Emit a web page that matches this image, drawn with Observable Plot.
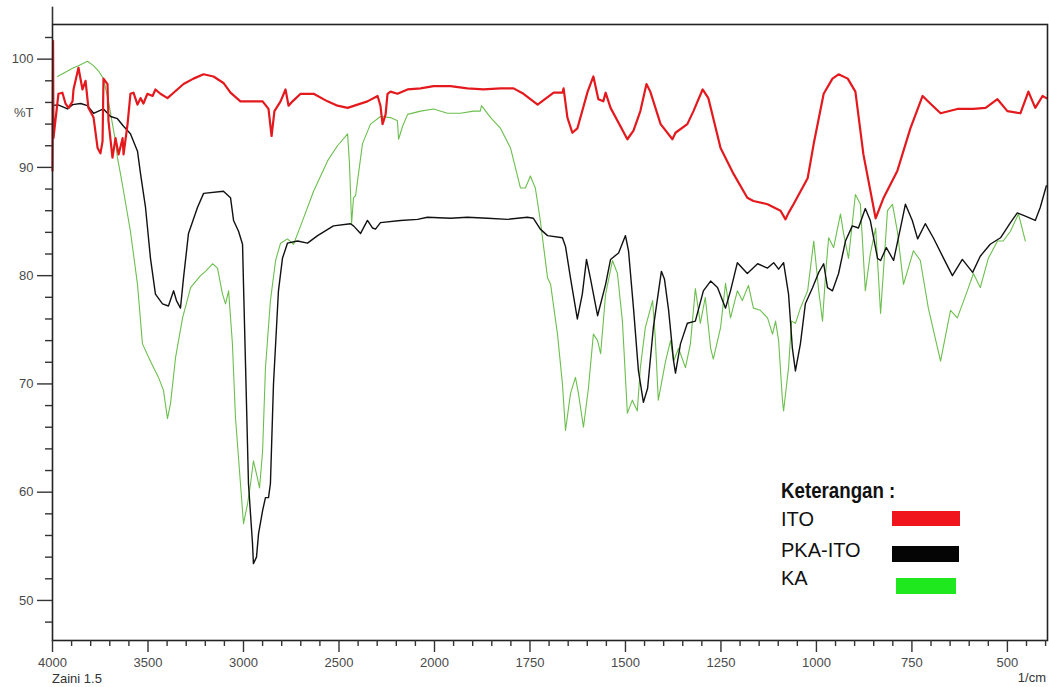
<!DOCTYPE html>
<html>
<head>
<meta charset="utf-8">
<script src="https://cdn.jsdelivr.net/npm/d3@7"></script>
<script src="https://cdn.jsdelivr.net/npm/@observablehq/plot@0.6"></script>
<style>
  html, body { margin: 0; padding: 0; background: #fff; }
  #wrap { position: relative; width: 1049px; height: 687px; font-family: "Liberation Sans", Arial, sans-serif; }
  #wrap svg { position: absolute; left: 0; top: 0; }
  .lg { position: absolute; white-space: nowrap; color: #111; }
  .sw { position: absolute; }
  .note { position: absolute; font-size: 13px; color: #333; white-space: nowrap; }
</style>
</head>
<body>
<div id="wrap"></div>
<script>
// ---- Data (wavenumber 1/cm, %T) ----
const itoSpectrum = [[4000,89.7],[3997,101.7],[3995,92.7],[3969,96.8],[3948,96.9],[3932,95.9],[3916,95.5],[3895,96.1],[3890,97.2],[3864,99.2],[3843,97.2],[3827,98.0],[3812,95.5],[3785,94.6],[3764,91.8],[3749,91.3],[3738,92.4],[3733,98.2],[3712,97.7],[3707,94.3],[3686,90.9],[3670,92.7],[3654,91.2],[3633,92.7],[3628,91.2],[3607,94.0],[3592,96.8],[3576,96.9],[3555,95.8],[3539,96.4],[3524,95.9],[3503,96.8],[3476,96.6],[3461,97.2],[3435,96.8],[3398,96.4],[3366,96.9],[3314,97.7],[3262,98.2],[3209,98.6],[3157,98.4],[3105,97.8],[3068,96.9],[3016,96.1],[2937,96.1],[2900,96.1],[2869,95.4],[2853,92.9],[2838,95.2],[2806,96.1],[2780,97.2],[2764,95.7],[2743,96.1],[2701,96.8],[2633,96.8],[2560,96.1],[2508,95.7],[2455,95.5],[2403,95.8],[2351,96.1],[2298,96.6],[2283,95.7],[2272,94.0],[2256,94.9],[2246,96.8],[2230,97.0],[2194,96.8],[2141,97.2],[2073,97.3],[2005,97.5],[1958,97.5],[1914,97.3],[1872,97.2],[1827,97.3],[1793,97.3],[1767,96.8],[1730,95.8],[1688,96.9],[1665,96.9],[1662,97.3],[1652,94.6],[1639,93.2],[1626,93.6],[1599,97.0],[1584,98.4],[1571,96.3],[1558,96.1],[1552,96.9],[1539,95.5],[1495,92.6],[1479,93.4],[1461,95.2],[1445,97.7],[1435,97.0],[1408,94.0],[1377,92.6],[1369,93.2],[1338,94.0],[1322,95.2],[1298,97.2],[1283,96.4],[1251,91.8],[1217,89.4],[1181,87.2],[1165,86.9],[1128,86.6],[1094,86.0],[1081,85.2],[1073,85.8],[1060,86.6],[1023,89.0],[1007,92.2],[981,96.8],[958,98.2],[942,98.6],[918,98.2],[898,97.0],[877,91.2],[845,85.3],[824,87.2],[788,89.7],[754,93.6],[722,96.6],[702,95.9],[675,95.0],[631,95.4],[589,95.4],[557,95.5],[526,96.3],[500,95.2],[466,95.0],[445,97.0],[427,95.5],[408,96.6],[398,96.4]];

const pkaItoSpectrum = [[3995,95.7],[3974,95.8],[3921,95.4],[3895,95.8],[3853,95.9],[3817,95.7],[3785,95.0],[3733,95.4],[3696,94.7],[3660,94.5],[3628,93.8],[3592,93.1],[3555,91.5],[3539,89.4],[3513,86.3],[3487,81.6],[3461,78.3],[3424,77.4],[3393,77.2],[3366,78.6],[3351,77.7],[3330,77.0],[3314,79.8],[3288,83.9],[3241,86.3],[3209,87.6],[3105,87.8],[3068,87.2],[3052,85.1],[3026,84.1],[3005,82.9],[3000,79.2],[2989,71.5],[2974,60.8],[2953,55.3],[2948,53.4],[2932,54.0],[2921,56.2],[2900,58.3],[2885,59.5],[2869,59.5],[2859,60.8],[2843,70.0],[2817,78.6],[2796,81.6],[2770,83.0],[2717,83.2],[2665,83.0],[2612,83.7],[2529,84.6],[2440,84.8],[2424,84.6],[2387,83.9],[2351,85.1],[2324,84.4],[2309,84.3],[2283,84.9],[2178,85.1],[2089,85.2],[2037,85.4],[1958,85.3],[1914,85.4],[1861,85.3],[1809,85.2],[1757,85.4],[1741,85.3],[1723,84.3],[1704,83.7],[1665,83.5],[1657,82.7],[1644,79.8],[1626,76.0],[1613,78.3],[1602,81.5],[1592,79.8],[1573,76.3],[1552,79.2],[1539,81.5],[1518,82.1],[1500,83.7],[1492,82.3],[1479,77.0],[1466,71.2],[1453,68.3],[1442,69.6],[1427,75.2],[1406,80.4],[1398,79.7],[1387,76.8],[1374,72.1],[1369,71.0],[1356,73.7],[1338,75.6],[1317,75.8],[1296,78.6],[1277,79.5],[1259,78.9],[1238,77.0],[1225,78.6],[1207,81.2],[1181,80.2],[1154,81.1],[1128,80.7],[1112,81.2],[1099,80.6],[1086,81.2],[1073,78.3],[1063,73.3],[1055,71.2],[1042,73.7],[1029,77.4],[1010,78.9],[994,80.3],[981,81.1],[971,78.9],[958,78.6],[942,80.2],[924,83.2],[906,84.6],[890,84.4],[872,86.2],[859,85.1],[840,81.6],[832,81.4],[817,82.6],[798,81.4],[780,84.4],[767,86.6],[749,85.1],[735,83.4],[715,84.8],[694,83.5],[667,81.6],[644,80.0],[618,81.5],[591,80.3],[571,81.8],[545,82.9],[518,83.5],[492,84.9],[474,85.8],[453,85.5],[427,85.1],[414,86.3],[398,88.3]];

const kaSpectrum = [[3974,98.4],[3921,98.9],[3890,99.2],[3864,99.4],[3817,99.8],[3785,99.4],[3759,98.9],[3733,98.2],[3707,96.1],[3686,94.0],[3670,92.4],[3660,90.9],[3644,89.4],[3628,87.8],[3592,84.1],[3555,79.2],[3529,73.7],[3487,72.1],[3445,70.6],[3419,69.4],[3398,66.8],[3382,68.2],[3356,72.4],[3319,76.1],[3277,78.9],[3225,80.0],[3199,80.4],[3162,81.1],[3136,80.7],[3110,78.3],[3094,77.4],[3078,78.6],[3058,73.7],[3042,66.9],[3016,60.8],[3000,57.1],[2979,58.9],[2963,60.8],[2948,62.9],[2927,61.3],[2916,60.4],[2900,63.8],[2885,71.5],[2859,77.7],[2832,81.4],[2806,83.0],[2770,83.4],[2738,82.9],[2701,84.6],[2633,87.8],[2560,90.6],[2508,92.0],[2455,93.1],[2445,90.3],[2434,84.8],[2424,87.2],[2413,87.4],[2398,89.4],[2377,92.2],[2335,94.0],[2283,94.7],[2230,94.6],[2194,94.3],[2188,92.6],[2167,93.8],[2141,94.9],[2073,95.2],[2005,95.4],[1966,95.0],[1932,95.0],[1898,95.2],[1880,95.2],[1877,95.7],[1853,94.6],[1827,93.6],[1801,91.8],[1775,88.1],[1762,88.1],[1749,89.2],[1736,88.1],[1723,85.1],[1704,79.8],[1696,79.2],[1678,74.6],[1665,70.0],[1657,65.7],[1644,69.1],[1631,70.6],[1623,69.1],[1610,66.0],[1597,69.6],[1584,74.6],[1573,74.0],[1565,72.8],[1552,78.3],[1534,81.4],[1521,80.2],[1508,75.8],[1495,67.3],[1482,68.5],[1469,67.5],[1461,71.5],[1448,75.2],[1429,77.7],[1422,74.3],[1414,68.5],[1395,72.1],[1382,74.0],[1374,72.1],[1361,73.3],[1343,71.5],[1330,73.7],[1317,78.8],[1304,75.6],[1291,78.0],[1277,73.3],[1270,72.3],[1251,75.2],[1238,79.3],[1225,76.1],[1207,78.6],[1194,77.7],[1178,79.1],[1165,77.0],[1147,76.8],[1128,76.1],[1115,74.6],[1107,75.8],[1099,74.0],[1089,68.5],[1086,67.5],[1073,71.5],[1065,75.8],[1055,75.6],[1042,77.0],[1023,78.6],[1007,83.2],[994,78.6],[984,75.8],[976,80.2],[968,83.5],[955,82.6],[937,85.7],[929,83.9],[916,81.6],[898,87.5],[885,86.6],[872,78.6],[859,82.0],[845,84.4],[832,76.5],[814,86.0],[801,86.6],[788,84.1],[772,79.2],[746,82.3],[728,81.4],[707,77.0],[675,72.1],[649,76.8],[631,76.1],[605,78.6],[589,80.2],[571,78.9],[550,81.6],[526,83.2],[511,83.2],[492,84.1],[471,85.7],[453,83.2]];

// ---- Axes ticks and labels ----
const xMajorTicks = [4000, 3500, 3000, 2500, 2000, 1750, 1500, 1250, 1000, 750, 500];
const xMinorTicks = [3900,3800,3700,3600,3400,3300,3200,3100,2900,2800,2700,2600,2400,2300,2200,2100,
  1950,1900,1850,1800,1700,1650,1600,1550,1450,1400,1350,1300,1200,1150,1100,1050,950,900,850,800,700,650,600,550,450,400];
const yMajorTicks = [50, 60, 70, 80, 90, 100];
const yMinorTicks = [48,52,54,56,58,62,64,66,68,72,74,76,78,82,84,86,88,92,94,96,98,102];
const yAxisLabel = "%T";
const yAxisLabelAt = 95;
const xUnitLabel = "1/cm";
const sampleNote = "Zaini 1.5";
const legendTitle = "Keterangan :";
const seriesNames = ["ITO", "PKA-ITO", "KA"];
const seriesLineColors = ["#e3191e", "#111111", "#6cbf4e"];
const seriesSwatchColors = ["#f0141c", "#050505", "#1fe81f"];

const toRows = (arr) => arr.map(([wn, t]) => ({wn, t}));

const chart = Plot.plot({
  width: 1049,
  height: 687,
  marginLeft: 52,
  marginRight: 2,
  marginTop: 24,
  marginBottom: 47,
  style: {fontFamily: "'Liberation Sans', Arial, sans-serif", fontSize: "13px", color: "#4a4a4a", background: "transparent"},
  x: {type: "linear", domain: [4000, 2000, 395], range: [52, 434, 1047]},
  y: {domain: [46.3, 103.2]},
  marks: [
    Plot.line(toRows(kaSpectrum), {x: "wn", y: "t", stroke: seriesLineColors[2], strokeWidth: 1.1}),
    Plot.line(toRows(pkaItoSpectrum), {x: "wn", y: "t", stroke: seriesLineColors[1], strokeWidth: 1.4}),
    Plot.line(toRows(itoSpectrum), {x: "wn", y: "t", stroke: seriesLineColors[0], strokeWidth: 2.2}),
    Plot.frame({stroke: "#222", strokeWidth: 1.6}),
    Plot.ruleX([4000], {y1: 103.2, y2: 104.8, stroke: "#333", strokeWidth: 1.6, clip: false}),
    Plot.axisY({ticks: yMajorTicks, tickSize: 15, tickPadding: 4, label: null, stroke: "#333", strokeWidth: 1.4}),
    Plot.axisY({ticks: yMinorTicks, tickSize: 7, tickFormat: () => "", label: null, stroke: "#333", strokeWidth: 1.4}),
    Plot.axisY({ticks: [yAxisLabelAt], tickSize: 0, tickPadding: 19, tickFormat: () => yAxisLabel, label: null}),
    Plot.axisX({ticks: xMajorTicks, tickSize: 12, tickPadding: 5, tickFormat: (d) => String(d), label: null, stroke: "#333", strokeWidth: 1.4}),
    Plot.axisX({ticks: xMinorTicks, tickSize: 6, tickFormat: () => "", label: null, stroke: "#333", strokeWidth: 1.4})
  ]
});

const wrap = document.getElementById("wrap");
wrap.appendChild(chart);

// bottom notes
const n1 = document.createElement("div");
n1.className = "note"; n1.textContent = sampleNote;
n1.style.left = "52px"; n1.style.top = "671px";
wrap.appendChild(n1);
const n2 = document.createElement("div");
n2.className = "note"; n2.textContent = xUnitLabel;
n2.style.right = "3px"; n2.style.top = "670px";
wrap.appendChild(n2);

// legend
const t = document.createElement("div");
t.className = "lg"; t.textContent = legendTitle;
t.style.left = "781px"; t.style.top = "478px";
t.style.fontWeight = "bold"; t.style.fontSize = "22px";
t.style.transform = "scaleX(0.85)"; t.style.transformOrigin = "left top";
wrap.appendChild(t);

const textTops = [508, 539, 567];
const swatches = [[892, 511, 68, 15], [892, 546, 67, 16], [896, 578, 60, 16]];
seriesNames.forEach((name, i) => {
  const d = document.createElement("div");
  d.className = "lg"; d.textContent = name;
  d.style.left = "781px"; d.style.top = textTops[i] + "px";
  d.style.fontSize = "20px";
  wrap.appendChild(d);
  const s = document.createElement("div");
  s.className = "sw";
  const [x, y, w, h] = swatches[i];
  s.style.left = x + "px"; s.style.top = y + "px"; s.style.width = w + "px"; s.style.height = h + "px";
  s.style.background = seriesSwatchColors[i];
  wrap.appendChild(s);
});
</script>
</body>
</html>
